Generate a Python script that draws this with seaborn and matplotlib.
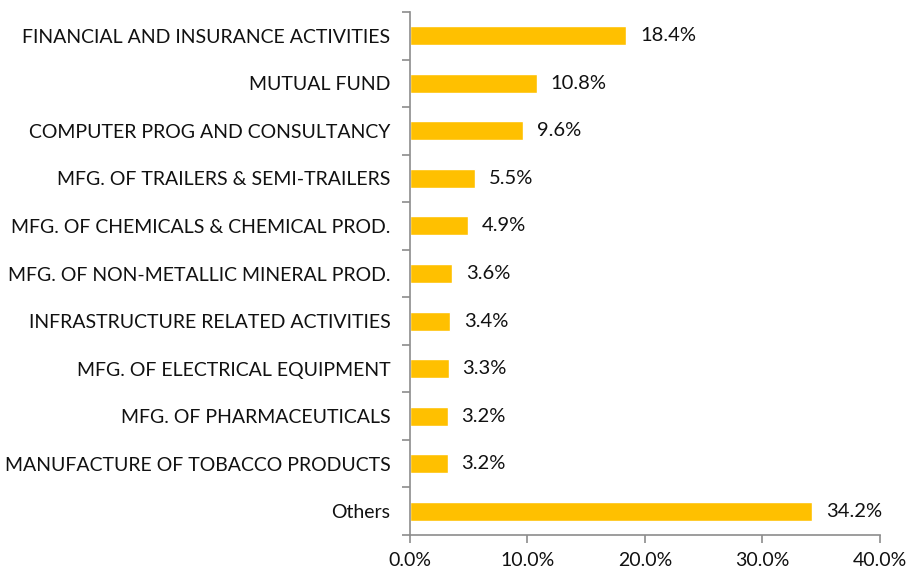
import matplotlib
matplotlib.use("Agg")
import numpy as np
import pandas as pd
import seaborn as sns
from matplotlib import pyplot as plt
from matplotlib.ticker import FixedLocator, FuncFormatter

sectors = [
    "FINANCIAL AND INSURANCE ACTIVITIES",
    "MUTUAL FUND",
    "COMPUTER PROG AND CONSULTANCY",
    "MFG. OF TRAILERS & SEMI-TRAILERS",
    "MFG. OF CHEMICALS & CHEMICAL PROD.",
    "MFG. OF NON-METALLIC MINERAL PROD.",
    "INFRASTRUCTURE RELATED ACTIVITIES",
    "MFG. OF ELECTRICAL EQUIPMENT",
    "MFG. OF PHARMACEUTICALS",
    "MANUFACTURE OF TOBACCO PRODUCTS",
    "Others",
]
share = [18.4, 10.8, 9.6, 5.5, 4.9, 3.6, 3.4, 3.3, 3.2, 3.2, 34.2]

df = pd.DataFrame({"sector": sectors, "share": share})

sns.set_style("white")
plt.rcParams['font.family'] = ['Lato', 'DejaVu Sans']

fig = plt.figure(figsize=(9.1, 5.75), dpi=100)
ax = fig.add_axes([0.4505, 0.0696, 0.5165, 0.9094])
sns.barplot(data=df, x="share", y="sector", orient="h", color="#FFC000",
            saturation=1, width=0.4, ax=ax)

for i, v in enumerate(share):
    ax.annotate(f"{v:.1f}%", (v, i), xytext=(10, 0), textcoords="offset points",
                va="center", ha="left", fontsize=14.5, color="#111111")

ax.set_xlim(0, 40)
ax.set_ylim(10.5, -0.5)
ax.xaxis.set_major_locator(FixedLocator([0, 10, 20, 30, 40]))
ax.xaxis.set_major_formatter(FuncFormatter(lambda x, p: f"{x:.1f}%"))
ax.yaxis.set_minor_locator(FixedLocator(np.arange(-0.5, 11, 1)))
ax.tick_params(axis="y", which="major", left=True, length=0, pad=14, labelsize=14, labelcolor="#111111")
ax.tick_params(axis="y", which="minor", left=True, length=6, width=1.2, color="#8c8c8c", direction="out")
ax.tick_params(axis="x", which="major", bottom=True, length=6, width=1.2, color="#8c8c8c",
               direction="out", labelsize=14, labelcolor="#111111", pad=6)
ax.set_xlabel("")
ax.set_ylabel("")
for s in ["top", "right"]:
    ax.spines[s].set_visible(False)
for s in ["left", "bottom"]:
    ax.spines[s].set_color("#8c8c8c")
    ax.spines[s].set_linewidth(1.2)

fig.savefig("out.png", dpi=100)
